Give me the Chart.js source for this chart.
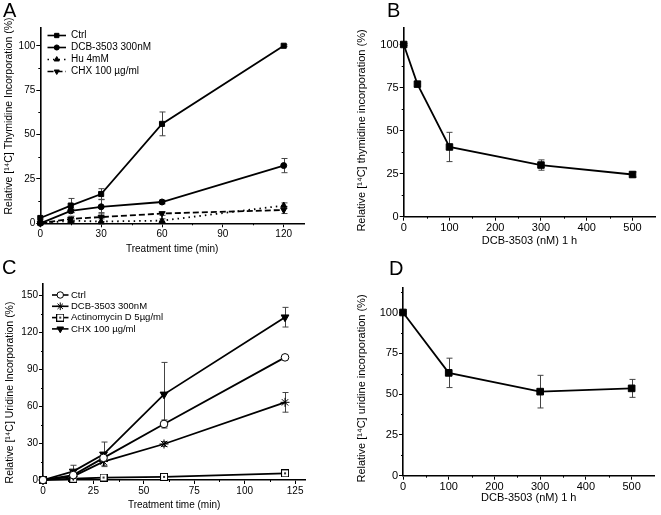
<!DOCTYPE html>
<html><head><meta charset="utf-8">
<script src="https://cdn.jsdelivr.net/npm/chart.js@4.4.1/dist/chart.umd.min.js"></script>
<style>
html,body{margin:0;padding:0;background:#fff;width:661px;height:515px;overflow:hidden;position:relative;font-family:"Liberation Sans",Arial,sans-serif;}
canvas{position:absolute;}
.lbl{position:absolute;font-size:20px;line-height:20px;color:#000;}
</style></head><body>
<canvas id="cA" width="330" height="255" style="left:0;top:0"></canvas>
<canvas id="cB" width="331" height="255" style="left:330px;top:0"></canvas>
<canvas id="cC" width="330" height="260" style="left:0;top:255px"></canvas>
<canvas id="cD" width="331" height="260" style="left:330px;top:255px"></canvas>
<div class="lbl" style="left:3px;top:0px">A</div>
<div class="lbl" style="left:387px;top:0px">B</div>
<div class="lbl" style="left:2px;top:257px">C</div>
<div class="lbl" style="left:389px;top:258px">D</div>
<script>
// ---------- Panel A: thymidine incorporation vs time ----------
const timeA = [0, 15, 30, 60, 120];
const thyCtrl = [3, 10, 16.5, 56, 100];
const thyCtrlErr = [0, 4, 3, 6.7, 0.5];
const thyDCB = [0, 7, 9.3, 12, 32.5];
const thyDCBErr = [0, 1, 4, 1, 4];
const thyHu = [0, 1.5, 1, 1.5, 10];
const thyHuErr = [0, 1, 1.5, 1, 1.5];
const thyCHX = [0, 2.5, 3.5, 5.5, 7.5];
const thyCHXErr = [0, 1.5, 2.5, 1, 2];
const labelsA = ["Ctrl", "DCB-3503 300nM", "Hu 4mM", "CHX 100 \u00b5g/ml"];
const xTicksA = [0, 30, 60, 90, 120];
const yTicksA = [0, 25, 50, 75, 100];

// ---------- Panel B: thymidine vs dose ----------
const doseB = [0, 30, 100, 300, 500];
const thyDose = [100, 77, 40.5, 30, 24.5];
const thyDoseErr = [0.5, 1.5, 8.5, 3, 1.5];
const xTicksB = [0, 100, 200, 300, 400, 500];
const yTicksB = [0, 25, 50, 75, 100];

// ---------- Panel C: uridine incorporation vs time ----------
const timeC = [0, 15, 30, 60, 120];
const uriCtrl = [0, 4, 18, 45.6, 99.8];
const uriCtrlErr = [0, 1, 2, 3.3, 0.5];
const uriDCB = [0, 3, 15, 29.3, 63.2];
const uriDCBErr = [0, 1, 3, 2, 8];
const uriActD = [0, 1, 2, 2.5, 5.4];
const uriActDErr = [0, 0.5, 1, 1, 1];
const uriCHX = [0, 7, 20.9, 69.7, 132.5];
const uriCHXErr = [0, 5, 10, 26, 8];
const labelsC = ["Ctrl", "DCB-3503 300nM", "Actinomycin D 5\u00b5g/ml", "CHX 100 \u00b5g/ml"];
const xTicksC = [0, 25, 50, 75, 100, 125];
const yTicksC = [0, 30, 60, 90, 120, 150];

// ---------- Panel D: uridine vs dose ----------
const doseD = [0, 100, 300, 500];
const uriDose = [100, 63, 51.5, 53.5];
const uriDoseErr = [0.5, 9, 10, 5.5];
const xTicksD = [0, 100, 200, 300, 400, 500];
const yTicksD = [0, 25, 50, 75, 100];

const FONT = '"Liberation Sans", Arial, sans-serif';
Chart.defaults.font.family = FONT;
Chart.defaults.color = '#000';

function pts(xs, ys){ return xs.map((x,i)=>({x:x, y:ys[i]})); }

// open square with centre dot marker
const sqDot = document.createElement('canvas');
sqDot.width = 8; sqDot.height = 8;
(function(){const c=sqDot.getContext('2d'); c.fillStyle='#fff'; c.fillRect(0,0,8,8); c.strokeStyle='#000'; c.lineWidth=1; c.strokeRect(0.5,0.5,7,7); c.fillStyle='#333'; c.fillRect(3,3,2,2);})();

const errPlugin = {
  id:'errbars',
  beforeDatasetsDraw(chart){
    const ctx=chart.ctx, xs=chart.scales.x, ys=chart.scales.y;
    ctx.save(); ctx.strokeStyle='#444'; ctx.lineWidth=1;
    chart.data.datasets.forEach(ds=>{
      const e=ds.errorBars; if(!e) return;
      ds.data.forEach((p,i)=>{
        const err=e[i]; if(!err) return;
        const x=Math.round(xs.getPixelForValue(p.x))+0.5;
        const y1=ys.getPixelForValue(p.y+err), y2=ys.getPixelForValue(p.y-err);
        ctx.beginPath();
        ctx.moveTo(x,y1); ctx.lineTo(x,y2);
        ctx.moveTo(x-3,y1); ctx.lineTo(x+3,y1);
        ctx.moveTo(x-3,y2); ctx.lineTo(x+3,y2);
        ctx.stroke();
      });
    });
    ctx.restore();
  }
};
const minorPlugin = {
  id:'minorTicks',
  afterDraw(chart,args,o){
    const ctx=chart.ctx, xs=chart.scales.x, ys=chart.scales.y, a=chart.chartArea;
    ctx.save(); ctx.strokeStyle='#000'; ctx.lineWidth=1; ctx.beginPath();
    (o.x||[]).forEach(v=>{const px=Math.round(xs.getPixelForValue(v))+0.5; ctx.moveTo(px,a.bottom); ctx.lineTo(px,a.bottom+o.len);});
    (o.y||[]).forEach(v=>{const py=Math.round(ys.getPixelForValue(v))+0.5; ctx.moveTo(a.left,py); ctx.lineTo(a.left-o.len,py);});
    ctx.stroke(); ctx.restore();
  }
};
const legendPlugin = {
  id:'boxLegend',
  afterDraw(chart,args,o){
    const ctx=chart.ctx; ctx.save();
    chart.data.datasets.forEach((ds,i)=>{
      const y=o.y0+i*o.dy;
      ctx.strokeStyle='#000'; ctx.lineWidth=1.6; ctx.setLineDash(ds.borderDash||[]);
      ctx.beginPath(); ctx.moveTo(o.x0,y); ctx.lineTo(o.x1,y); ctx.stroke();
      ctx.setLineDash([]);
      ctx.fillStyle=ds.pointBackgroundColor||'#000'; ctx.strokeStyle='#000'; ctx.lineWidth=1;
      Chart.helpers.drawPoint(ctx,{pointStyle:ds.pointStyle,radius:ds.pointRadius*0.85,rotation:ds.pointRotation||0,borderWidth:1},(o.x0+o.x1)/2,y);
      ctx.fillStyle='#000'; ctx.font=o.font; ctx.textBaseline='middle'; ctx.textAlign='left';
      ctx.fillText(ds.label,o.tx,y);
    });
    ctx.restore();
  }
};
const yTitlePlugin = {
  id:'yTitle',
  afterDraw(chart,args,o){
    const ctx=chart.ctx; ctx.save();
    ctx.translate(o.x,o.y); ctx.rotate(-Math.PI/2);
    ctx.fillStyle='#000'; ctx.font=o.font; ctx.textAlign='center'; ctx.textBaseline='middle';
    ctx.fillText(o.text,0,0); ctx.restore();
  }
};

function makeChart(id, cfg){
  const c=document.getElementById(id);
  const W=c.width, H=c.height, A=cfg.area;
  const axisCommon = (ticksArr, fs)=>({
    type:'linear',
    afterBuildTicks:s=>{ s.ticks = ticksArr.map(v=>({value:v})); },
    grid:{drawOnChartArea:false, drawTicks:true, tickLength:4, color:'#000', lineWidth:1},
    border:{display:true, color:'#000', width:1.6},
    ticks:{font:{size:fs}, color:'#000', padding:1, maxRotation:0, autoSkip:false}
  });
  const xs = Object.assign(axisCommon(cfg.xTicks, cfg.tickFs), {
    min:cfg.xMin, max:cfg.xMax,
    afterFit:s=>{ s.height = H - A.bottom; },
    title:{display:true, text:cfg.xTitle, font:{size:cfg.xTitleFs}, color:'#000', padding:{top:0,bottom:cfg.xTitlePad}}
  });
  const ys = Object.assign(axisCommon(cfg.yTicks, cfg.tickFs), {
    min:0, max:cfg.yMax,
    afterFit:s=>{ s.width = A.left; }
  });
  return new Chart(c,{
    type:'line',
    data:{datasets:cfg.datasets},
    options:{
      responsive:false, animation:false, devicePixelRatio:1,
      layout:{padding:{left:0, top:A.top, right:W-A.right, bottom:0}},
      plugins:{legend:{display:false}, tooltip:{enabled:false},
        minorTicks:cfg.minor, boxLegend:cfg.legend||false, yTitle:cfg.yTitle},
      scales:{x:xs, y:ys}
    },
    plugins:[errPlugin, minorPlugin, legendPlugin, yTitlePlugin]
  });
}
function ds(label, xs, ys, errs, extra){
  return Object.assign({label:label, data:pts(xs,ys), errorBars:errs, borderColor:'#000', borderWidth:1.8,
    pointBackgroundColor:'#000', pointBorderColor:'#000', pointBorderWidth:1, pointRadius:3, clip:false, tension:0, fill:false}, extra||{});
}

makeChart('cA',{
  area:{left:40.3, right:304, top:28, bottom:223.3},
  xMin:0, xMax:130, yMax:110, xTicks:xTicksA, yTicks:yTicksA, tickFs:10,
  xTitle:'Treatment time (min)', xTitleFs:10, xTitlePad:0,
  yTitle:{text:'Relative [\u00b9\u2074C] Thymidine Incorporation (%)', x:9, y:116, font:'10.5px '+FONT},
  minor:{x:[15,45,75,105], y:[12.5,37.5,62.5,87.5], len:2},
  legend:{x0:47.5, x1:66, tx:71, y0:35.5, dy:12, font:'10px '+FONT},
  datasets:[
    ds(labelsA[0], timeA, thyCtrl, thyCtrlErr, {pointStyle:'rect', pointRadius:3.6}),
    ds(labelsA[1], timeA, thyDCB, thyDCBErr, {pointStyle:'circle', pointRadius:3}),
    ds(labelsA[2], timeA, thyHu, thyHuErr, {pointStyle:'triangle', pointRadius:3.5, borderDash:[1.5,4]}),
    ds(labelsA[3], timeA, thyCHX, thyCHXErr, {pointStyle:'triangle', pointRotation:180, pointRadius:3.5, borderDash:[6,3]})
  ]
});
makeChart('cB',{
  area:{left:73.7, right:326.7, top:27.3, bottom:216.7},
  xMin:0, xMax:550, yMax:110, xTicks:xTicksB, yTicks:yTicksB, tickFs:11,
  xTitle:'DCB-3503 (nM) 1 h', xTitleFs:11, xTitlePad:7,
  yTitle:{text:'Relative [\u00b9\u2074C] thymidine incorporation (%)', x:31.7, y:130.5, font:'11px '+FONT},
  minor:{x:[50,150,250,350,450], y:[12.5,37.5,62.5,87.5], len:2},
  datasets:[
    ds('DCB-3503', doseB, thyDose, thyDoseErr, {pointStyle:'rect', pointRadius:4.6})
  ]
});
makeChart('cC',{
  area:{left:43, right:305.2, top:28.4, bottom:225},
  xMin:0, xMax:130, yMax:160, xTicks:xTicksC, yTicks:yTicksC, tickFs:10,
  xTitle:'Treatment time (min)', xTitleFs:10, xTitlePad:4,
  yTitle:{text:'Relative [\u00b9\u2074C] Uridine Incorporation (%)', x:10.3, y:137.5, font:'10.5px '+FONT},
  minor:{x:[12.5,37.5,62.5,87.5,112.5], y:[15,45,75,105,135], len:2},
  legend:{x0:52, x1:68.5, tx:71, y0:40, dy:11.3, font:'9.5px '+FONT},
  datasets:[
    ds(labelsC[0], timeC, uriCtrl, uriCtrlErr, {pointStyle:'circle', pointRadius:3.8, pointBackgroundColor:'#fff'}),
    ds(labelsC[1], timeC, uriDCB, uriDCBErr, {pointStyle:'star', pointRadius:4.5}),
    ds(labelsC[2], timeC, uriActD, uriActDErr, {pointStyle:sqDot, pointRadius:4, pointBackgroundColor:'#fff'}),
    ds(labelsC[3], timeC, uriCHX, uriCHXErr, {pointStyle:'triangle', pointRotation:180, pointRadius:4.5})
  ]
});
makeChart('cD',{
  area:{left:73, right:324.5, top:33, bottom:220.7},
  xMin:0, xMax:550, yMax:115, xTicks:xTicksD, yTicks:yTicksD, tickFs:11,
  xTitle:'DCB-3503 (nM) 1 h', xTitleFs:11, xTitlePad:10,
  yTitle:{text:'Relative [\u00b9\u2074C] uridine incorporation (%)', x:31.5, y:133.5, font:'11px '+FONT},
  minor:{x:[50,150,250,350,450], y:[12.5,37.5,62.5,87.5,112.5], len:2},
  datasets:[
    ds('DCB-3503', doseD, uriDose, uriDoseErr, {pointStyle:'rect', pointRadius:4.7})
  ]
});
</script>
</body></html>
